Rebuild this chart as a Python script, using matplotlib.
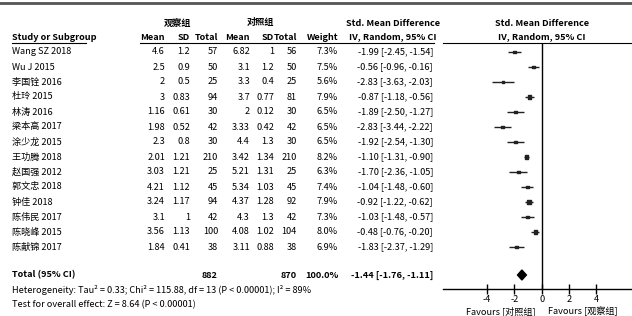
import numpy as np
import matplotlib
matplotlib.use('Agg')
import matplotlib.pyplot as plt
from matplotlib.patches import Polygon

plt.rcParams['font.family'] = ['Liberation Sans Narrow', 'Noto Sans CJK SC', 'DejaVu Sans']

# ---------------- data ----------------
studies = ['Wang SZ 2018', 'Wu J 2015', '李国铨 2016', '杜玲 2015', '林涛 2016', '梁本高 2017',
           '涂少龙 2015', '王功腾 2018', '赵国强 2012', '郭文忠 2018', '钟佳 2018',
           '陈伟民 2017', '陈晓峰 2015', '陈献锦 2017']
obs_mean = ['4.6', '2.5', '2', '3', '1.16', '1.98', '2.3', '2.01', '3.03', '4.21', '3.24', '3.1', '3.56', '1.84']
obs_sd = ['1.2', '0.9', '0.5', '0.83', '0.61', '0.52', '0.8', '1.21', '1.21', '1.12', '1.17', '1', '1.13', '0.41']
obs_n = [57, 50, 25, 94, 30, 42, 30, 210, 25, 45, 94, 42, 100, 38]
ctl_mean = ['6.82', '3.1', '3.3', '3.7', '2', '3.33', '4.4', '3.42', '5.21', '5.34', '4.37', '4.3', '4.08', '3.11']
ctl_sd = ['1', '1.2', '0.4', '0.77', '0.12', '0.42', '1.3', '1.34', '1.31', '1.03', '1.28', '1.3', '1.02', '0.88']
ctl_n = [56, 50, 25, 81, 30, 42, 30, 210, 25, 45, 92, 42, 104, 38]
weight = [7.3, 7.5, 5.6, 7.9, 6.5, 6.5, 6.5, 8.2, 6.3, 7.4, 7.9, 7.3, 8.0, 6.9]
smd = [-1.99, -0.56, -2.83, -0.87, -1.89, -2.83, -1.92, -1.10, -1.70, -1.04, -0.92, -1.03, -0.48, -1.83]
ci_lo = [-2.45, -0.96, -3.63, -1.18, -2.50, -3.44, -2.54, -1.31, -2.36, -1.48, -1.22, -1.48, -0.76, -2.37]
ci_hi = [-1.54, -0.16, -2.03, -0.56, -1.27, -2.22, -1.30, -0.90, -1.05, -0.60, -0.62, -0.57, -0.20, -1.29]
total_n = (882, 870)
total_smd, total_lo, total_hi = -1.44, -1.76, -1.11
ticks = [-4, -2, 0, 2, 4]

W, H = 632, 316
fig = plt.figure(figsize=(W / 100, H / 100), dpi=100)

# text layer in pixel coordinates
tx = fig.add_axes([0, 0, 1, 1])
tx.set_xlim(0, W); tx.set_ylim(H, 0); tx.axis('off')

fs = 6.6
row0, step = 52, 15
total_y = 275

tx.plot([0, W], [3, 3], color='#555555', lw=2)
for x0, x1 in [(12, 86), (140, 434), (443, W)]:
    tx.plot([x0, x1], [43, 43], color='black', lw=0.8)

def t(x, y, s, ha='right', bold=False, size=fs):
    tx.text(x, y, s, ha=ha, va='center', fontsize=size, fontweight='bold' if bold else 'normal')

# headers
t(178, 23, '观察组', ha='center', bold=True)
t(260, 23, '对照组', ha='center', bold=True)
t(393, 23, 'Std. Mean Difference', ha='center', bold=True)
t(542, 23, 'Std. Mean Difference', ha='center', bold=True)
t(12, 37, 'Study or Subgroup', ha='left', bold=True)
cols = [165, 190, 218, 250, 274, 297, 338]
for x, s in zip(cols, ['Mean', 'SD', 'Total', 'Mean', 'SD', 'Total', 'Weight']):
    t(x, 37, s, bold=True)
t(393, 37, 'IV, Random, 95% CI', ha='center', bold=True)
t(542, 37, 'IV, Random, 95% CI', ha='center', bold=True)

for i, name in enumerate(studies):
    y = row0 + i * step
    t(12, y, name, ha='left')
    vals = [obs_mean[i], obs_sd[i], str(obs_n[i]), ctl_mean[i], ctl_sd[i], str(ctl_n[i]), f'{weight[i]:.1f}%']
    for x, s in zip(cols, vals):
        t(x, y, s)
    t(433, y, f'{smd[i]:.2f} [{ci_lo[i]:.2f}, {ci_hi[i]:.2f}]')

t(12, total_y, 'Total (95% CI)', ha='left', bold=True)
t(218, total_y, str(total_n[0]), bold=True)
t(297, total_y, str(total_n[1]), bold=True)
t(338, total_y, '100.0%', bold=True)
t(433, total_y, f'{total_smd:.2f} [{total_lo:.2f}, {total_hi:.2f}]', bold=True)
t(12, 290, 'Heterogeneity: Tau² = 0.33; Chi² = 115.88, df = 13 (P < 0.00001); I² = 89%', ha='left')
t(12, 305, 'Test for overall effect: Z = 8.64 (P < 0.00001)', ha='left')
t(536, 311, 'Favours [对照组]', ha='right')
t(548, 311, 'Favours [观察组]', ha='left')

# forest panel
top_px, bot_px = 43, 289
left_px = 443
fx = fig.add_axes([left_px / W, 1 - bot_px / H, (W - left_px) / W, (bot_px - top_px) / H])
fx.set_xlim(-7.2, 6.6)
fx.set_ylim(bot_px, top_px)
fx.patch.set_alpha(0)
for sp in ['top', 'right', 'left']:
    fx.spines[sp].set_visible(False)
fx.spines['bottom'].set_linewidth(1.0)
fx.set_yticks([])
fx.set_xticks(ticks)
fx.set_xticklabels([str(v) for v in ticks], fontsize=fs)
fx.tick_params(axis='x', direction='inout', length=7, width=1, pad=1)
fx.axvline(0, color='black', lw=1)

ys = [row0 + i * step for i in range(len(studies))]
fx.hlines(ys, ci_lo, ci_hi, color='#222222', lw=1)
fx.scatter(smd, ys, marker='s', s=[w * 0.6 for w in weight], color='#222222', zorder=3)
diamond = Polygon([[total_lo, total_y], [total_smd, total_y - 5], [total_hi, total_y], [total_smd, total_y + 5]],
                  closed=True, color='black')
fx.add_patch(diamond)

fig.savefig('out.png', dpi=100)
